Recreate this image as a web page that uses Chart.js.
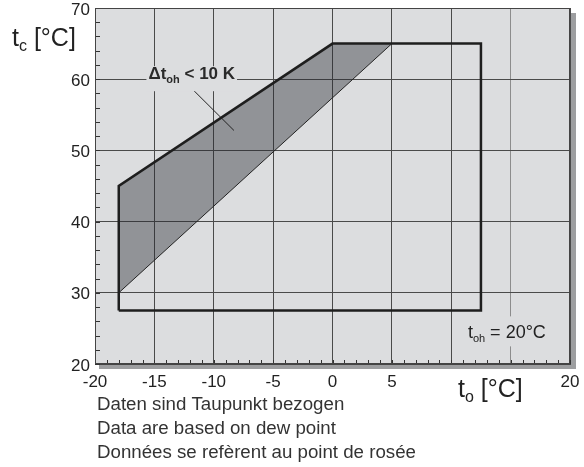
<!DOCTYPE html>
<html><head><meta charset="utf-8">
<script src="https://cdn.jsdelivr.net/npm/chart.js@4.4.1/dist/chart.umd.min.js"></script>
<style>html,body{margin:0;padding:0;background:#fff;}#wrap{width:584px;height:467px;position:relative;}canvas{display:block;}</style>
</head><body><div id="wrap"><canvas id="c" width="584" height="467"></canvas></div>
<script>
// ---- data ----
const xTicks = [-20, -15, -10, -5, 0, 5, 10, 15, 20];
const xTickLabels = ['-20', '-15', '-10', '-5', '0', '5', '', '', '20'];
const yTicks = [20, 30, 40, 50, 60, 70];
const yTickLabels = ['20', '30', '40', '50', '60', '70'];
// operating envelope outline (t_o, t_c)
const envelopeX = [-18, -18, 0, 12.5, 12.5, -18];
const envelopeY = [27.5, 45, 65, 65, 27.5, 27.5];
// shaded band (Δt_oh < 10 K)
const bandUpperX = [-18, 0, 5];
const bandUpperY = [45, 65, 65];
const bandLowerX = [-18, 5];
const bandLowerY = [30, 65];
// leader line of the annotation
const leaderX = [-12.1, -8.3];
const leaderY = [59.1, 52.8];
// texts
const bandLabel = ['Δt', 'oh', ' < 10 K'];
const bandLabelAt = [-15.5, 60];
const tohLabel = ['t', 'oh', ' = 20°C'];
const tohLabelAt = [11.4, 23.6];
const yTitle = ['t', 'c', ' [°C]'];
const xTitle = ['t', 'o', ' [°C]'];
const notes = ['Daten sind Taupunkt bezogen', 'Data are based on dew point', 'Données se refèrent au point de rosée'];

const pts = (xs, ys) => xs.map((x, i) => ({x: x, y: ys[i]}));
const FONT = '"Liberation Sans", Arial, Helvetica, sans-serif';

function drawRich(ctx, parts, x, y, size, bold, measureOnly) {
  const w = bold ? 'bold ' : '';
  const subSize = Math.round(size * 0.62);
  let cx = x;
  const segs = [[parts[0], size, 0], [parts[1], subSize, size * 0.2], [parts[2], size, 0]];
  for (const [t, s, dy] of segs) {
    ctx.font = w + s + 'px ' + FONT;
    if (!measureOnly) ctx.fillText(t, cx, y + dy);
    cx += ctx.measureText(t).width;
  }
  return cx - x;
}

const deco = {
  id: 'deco',
  beforeDraw(chart) {
    const {ctx, chartArea: a} = chart;
    ctx.save();
    ctx.fillStyle = '#9d9ea0';
    ctx.fillRect(a.left + 4, a.top + 5, a.width + 2, a.height);
    ctx.fillStyle = '#dcdddf';
    ctx.fillRect(a.left, a.top, a.width, a.height);
    ctx.restore();
  },
  afterDraw(chart) {
    const {ctx, chartArea: a, scales} = chart;
    const xs = scales.x, ys = scales.y;
    ctx.save();
    // minor inside ticks
    ctx.strokeStyle = '#333';
    ctx.lineWidth = 1;
    ctx.beginPath();
    for (let v = xs.min; v <= xs.max; v += 1) {
      const px = Math.round(xs.getPixelForValue(v)) + 0.5;
      ctx.moveTo(px, a.bottom); ctx.lineTo(px, a.bottom - 4);
    }
    for (let v = ys.min; v <= ys.max; v += 2) {
      const py = Math.round(ys.getPixelForValue(v)) + 0.5;
      ctx.moveTo(a.left, py); ctx.lineTo(a.left + 5, py);
    }
    ctx.stroke();
    // frame
    ctx.strokeStyle = '#444';
    ctx.strokeRect(Math.round(a.left) + 0.5, Math.round(a.top) + 0.5, Math.round(a.width) - 1, Math.round(a.height) - 1);

    ctx.textBaseline = 'alphabetic';
    ctx.textAlign = 'left';
    // band label with background box
    {
      const px = xs.getPixelForValue(bandLabelAt[0]);
      const py = ys.getPixelForValue(bandLabelAt[1]);
      const w = drawRich(ctx, bandLabel, px, py, 17, true, true);
      ctx.fillStyle = '#dcdddf';
      ctx.fillRect(px - 2, py - 13, w + 4, 25);
      ctx.fillStyle = '#2a2a2a';
      drawRich(ctx, bandLabel, px, py, 17, true, false);
    }
    // t_oh label
    {
      const px = xs.getPixelForValue(tohLabelAt[0]);
      const py = ys.getPixelForValue(tohLabelAt[1]);
      const w = drawRich(ctx, tohLabel, px, py, 18, false, true);
      ctx.fillStyle = '#dcdddf';
      ctx.fillRect(px - 2, py - 22, w + 4, 30);
      ctx.fillStyle = '#222';
      drawRich(ctx, tohLabel, px, py, 18, false, false);
    }
    // axis titles
    ctx.fillStyle = '#222';
    drawRich(ctx, yTitle, 12, 46, 25, false, false);
    drawRich(ctx, xTitle, 458, 397, 25, false, false);
    // notes
    ctx.fillStyle = '#333';
    ctx.font = '18.7px ' + FONT;
    notes.forEach((t, i) => ctx.fillText(t, 97, 410 + i * 24));
    ctx.restore();
  }
};

new Chart(document.getElementById('c'), {
  type: 'scatter',
  data: {
    datasets: [
      {data: pts(bandUpperX, bandUpperY), showLine: true, borderColor: 'rgba(0,0,0,0)', borderWidth: 0,
       backgroundColor: 'rgba(40,42,48,0.41)', fill: '+1', pointRadius: 0, order: 3},
      {data: pts(bandLowerX, bandLowerY), showLine: true, borderColor: '#222', borderWidth: 1,
       fill: false, pointRadius: 0, order: 2},
      {data: pts(envelopeX, envelopeY), showLine: true, borderColor: '#1e1e1e', borderWidth: 2.5,
       fill: false, pointRadius: 0, order: 1},
      {data: pts(leaderX, leaderY), showLine: true, borderColor: '#222', borderWidth: 1,
       fill: false, pointRadius: 0, order: 1}
    ]
  },
  options: {
    responsive: false,
    animation: false,
    devicePixelRatio: 1,
    layout: {padding: {left: 0, top: 8, right: 14, bottom: 73}},
    plugins: {legend: {display: false}, tooltip: {enabled: false}},
    elements: {line: {tension: 0, borderJoinStyle: 'miter'}},
    scales: {
      x: {
        type: 'linear', min: -20, max: 20,
        afterFit(s) { s.height = 30; s.paddingLeft = 0; s.paddingRight = 0; },
        afterBuildTicks(s) { s.ticks = xTicks.map(v => ({value: v})); },
        ticks: {
          autoSkip: false, maxRotation: 0, padding: 8, color: '#222',
          font: {family: FONT, size: 17},
          callback: (v) => { const i = xTicks.indexOf(v); return i >= 0 ? xTickLabels[i] : ''; }
        },
        grid: {drawTicks: false, color: (c) => (c.tick && c.tick.value === 15) ? '#8c8c8c' : '#4a4a4a', lineWidth: 1},
        border: {color: '#444', width: 1}
      },
      y: {
        type: 'linear', min: 20, max: 70,
        afterFit(s) { s.width = 95; s.paddingTop = 0; s.paddingBottom = 0; },
        afterBuildTicks(s) { s.ticks = yTicks.map(v => ({value: v})); },
        ticks: {
          autoSkip: false, padding: 5, labelOffset: 2, color: '#222',
          font: {family: FONT, size: 17},
          callback: (v) => { const i = yTicks.indexOf(v); return i >= 0 ? yTickLabels[i] : ''; }
        },
        grid: {drawTicks: false, color: '#4a4a4a', lineWidth: 1},
        border: {color: '#444', width: 1}
      }
    }
  },
  plugins: [deco]
});
</script>
</body></html>
